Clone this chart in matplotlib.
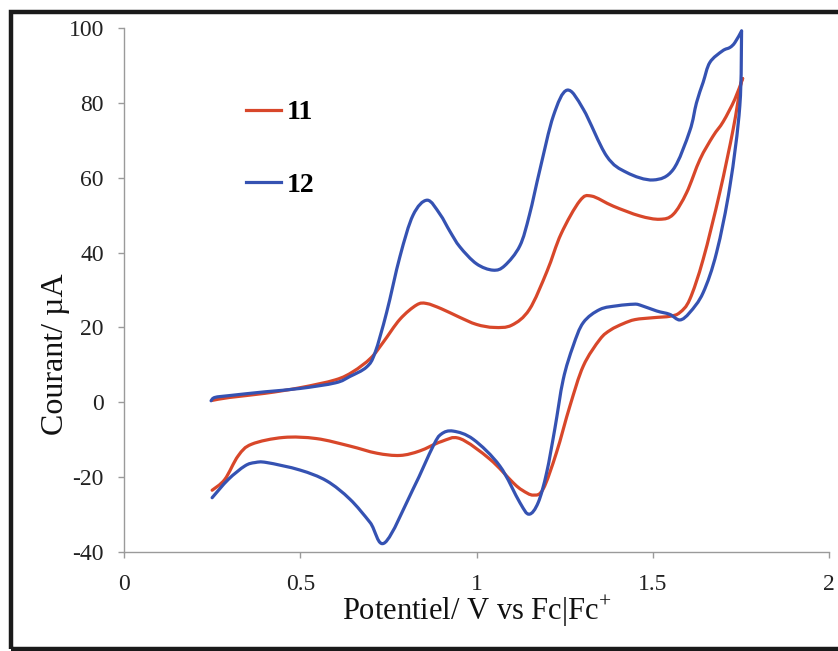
import matplotlib
matplotlib.use("Agg")
import matplotlib.pyplot as plt
from matplotlib.patches import Rectangle, PathPatch
from matplotlib.path import Path
from matplotlib.lines import Line2D

plt.rcParams["font.family"] = ["Liberation Serif", "DejaVu Serif"]
plt.rcParams["mathtext.fontset"] = "custom"
plt.rcParams["mathtext.rm"] = "Liberation Serif"
plt.rcParams["axes.unicode_minus"] = False

# Cyclic voltammograms: forward (anodic) scan then reverse scan, potential in V vs Fc|Fc+
e_11 = [0.25, 0.30, 0.40, 0.50, 0.60, 0.65, 0.70, 0.735, 0.783, 0.83, 0.858, 0.90, 0.95,
        1.00, 1.05, 1.10, 1.15, 1.20, 1.24, 1.293, 1.326, 1.388, 1.463, 1.52, 1.558, 1.596,
        1.634, 1.671, 1.70, 1.733, 1.755,
        1.749, 1.728, 1.69, 1.643, 1.605, 1.577, 1.55, 1.501, 1.45, 1.416, 1.38, 1.35, 1.303,
        1.265, 1.227, 1.189, 1.161, 1.13, 1.104, 1.038, 0.953, 0.90, 0.839, 0.783, 0.717,
        0.641, 0.546, 0.452, 0.362, 0.324, 0.286, 0.25]
i_11 = [0.5, 1.3, 2.4, 3.9, 6.0, 8.2, 11.8, 16.0, 22.2, 26.0, 26.4, 25.0, 22.8,
        20.8, 20.0, 20.6, 24.8, 35.0, 45.0, 53.8, 55.1, 52.4, 49.8, 48.9, 50.2, 56.0,
        64.9, 71.1, 75.0, 81.0, 86.5,
        84.5, 72.9, 56.0, 38.2, 27.5, 24.0, 23.0, 22.6, 22.1, 21.0, 19.3, 16.8, 9.7,
        -1.0, -13.4, -23.2, -24.8, -23.5, -21.5, -15.2, -9.7, -10.5, -13.0, -14.2, -13.6,
        -11.7, -9.7, -9.4, -11.2, -14.3, -20.6, -23.5]
turn_11 = 30  # index of the switching potential

e_12 = [0.247, 0.258, 0.30, 0.40, 0.50, 0.60, 0.641, 0.688, 0.712, 0.745, 0.783, 0.82, 0.86,
        0.896, 0.925, 0.953, 1.00, 1.047, 1.08, 1.123, 1.15, 1.18, 1.218, 1.257, 1.303,
        1.369, 1.426, 1.501, 1.558, 1.605, 1.624, 1.643, 1.662, 1.698, 1.719, 1.733, 1.752,
        1.747, 1.719, 1.681, 1.643, 1.605, 1.577, 1.548, 1.511, 1.463, 1.445, 1.40, 1.35,
        1.303, 1.274, 1.246, 1.222, 1.199, 1.175, 1.149, 1.123, 1.066, 0.991, 0.934, 0.90,
        0.877, 0.82, 0.74, 0.698, 0.641, 0.575, 0.499, 0.405, 0.372, 0.343, 0.296, 0.25]
i_12 = [0.4, 1.3, 1.8, 2.8, 3.7, 5.2, 6.9, 9.4, 13.2, 24.0, 39.0, 50.0, 54.0,
        50.3, 45.6, 41.5, 37.0, 35.3, 36.5, 41.8, 50.0, 62.2, 76.5, 83.4, 78.3,
        65.8, 61.4, 59.4, 62.2, 72.5, 80.0, 85.5, 90.8, 93.9, 94.8, 96.1, 99.2,
        79.2, 57.8, 40.0, 29.3, 24.0, 22.0, 23.5, 24.4, 26.0, 26.2, 25.8, 24.8,
        21.3, 15.0, 6.1, -7.2, -18.8, -26.8, -29.9, -26.8, -17.0, -9.9, -7.7, -8.5,
        -11.7, -23.2, -37.5, -32.1, -25.9, -21.0, -18.1, -16.1, -16.1, -17.0, -20.6, -25.5]
turn_12 = 36

x_ticks = [0, 0.5, 1, 1.5, 2]
x_tick_labels = ["0", "0.5", "1", "1.5", "2"]
y_ticks = [-40, -20, 0, 20, 40, 60, 80, 100]


def smoothed_path(xs, ys):
    """Smoothed (Catmull-Rom style) line through the points, as a Bezier path."""
    pts = list(zip(xs, ys))
    verts = [pts[0]]
    codes = [Path.MOVETO]
    n = len(pts)
    for k in range(n - 1):
        p0 = pts[k - 1] if k > 0 else pts[k]
        p1, p2 = pts[k], pts[k + 1]
        p3 = pts[k + 2] if k + 2 < n else pts[k + 1]
        c1 = (p1[0] + (p2[0] - p0[0]) / 6, p1[1] + (p2[1] - p0[1]) / 6)
        c2 = (p2[0] - (p3[0] - p1[0]) / 6, p2[1] - (p3[1] - p1[1]) / 6)
        verts += [c1, c2, p2]
        codes += [Path.CURVE4] * 3
    return Path(verts, codes)


def draw_cv(ax, e, i, turn, color):
    for seg in (slice(0, turn + 1), slice(turn, None)):
        ax.add_patch(PathPatch(smoothed_path(e[seg], i[seg]), fill=False,
                               edgecolor=color, lw=2.3, capstyle="round",
                               joinstyle="round"))


W, H = 838, 651
fig = plt.figure(figsize=(W / 100, H / 100), dpi=100)
ax = fig.add_axes([124 / W, 1 - 552 / H, (829 - 124) / W, (552 - 28) / H])

red = "#D8472A"
blue = "#3552B2"
draw_cv(ax, e_11, i_11, turn_11, red)
draw_cv(ax, e_12, i_12, turn_12, blue)

ax.set_xlim(0, 2)
ax.set_ylim(-40, 100)
ax.set_xticks(x_ticks)
ax.set_xticklabels(x_tick_labels)
ax.set_yticks(y_ticks)

for side in ("top", "right"):
    ax.spines[side].set_visible(False)
for side in ("left", "bottom"):
    ax.spines[side].set_color("#9a9a9a")
    ax.spines[side].set_linewidth(1.0)
ax.tick_params(axis="both", direction="out", length=4.5, width=1.0, color="#9a9a9a",
               labelsize=17, labelcolor="#222222")
ax.tick_params(axis="x", pad=11)
ax.tick_params(axis="y", pad=10)

fig.text(477 / W, 1 - 611 / H, r"Potentiel/ V vs Fc|Fc$^{+}$", fontsize=22,
         ha="center", va="center", color="#111111")
fig.text(55 / W, 1 - 354 / H, "Courant/ µA", fontsize=23, rotation=90,
         ha="center", va="center", color="#111111")

handles = [Line2D([], [], color=red, lw=2.3), Line2D([], [], color=blue, lw=2.3)]
ax.legend(handles, ["11", "12"], loc="upper left", bbox_to_anchor=(246 / W, 1 - 100 / H),
          bbox_transform=fig.transFigure, frameon=False, borderpad=0,
          borderaxespad=0, handlelength=1.25, handletextpad=0.2,
          labelspacing=1.68, prop={"family": "Liberation Serif", "weight": "bold", "size": 20})

# Outer frame around the figure
fig.patches.append(Rectangle((11 / W, 1 - 649 / H), (860 - 11) / W, (649 - 12) / H,
                             transform=fig.transFigure, fill=False, edgecolor="#1a1a1a",
                             linewidth=3.2, clip_on=False))

fig.savefig("out.png", dpi=100)
